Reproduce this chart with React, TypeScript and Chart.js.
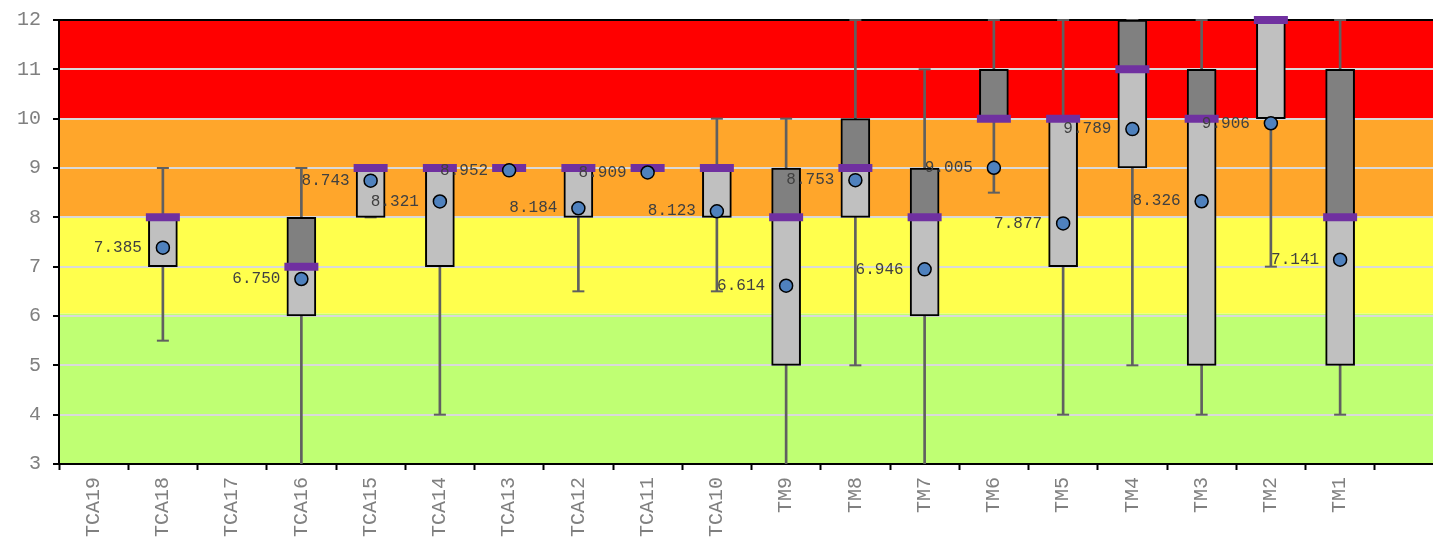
import React, { useEffect, useRef } from "react";
import { Chart, registerables } from "chart.js";

Chart.register(...registerables);

// ---------- data ----------
const categories = [
  "TCA19", "TCA18", "TCA17", "TCA16", "TCA15", "TCA14", "TCA13", "TCA12", "TCA11", "TCA10",
  "TM9", "TM8", "TM7", "TM6", "TM5", "TM4", "TM3", "TM2", "TM1", "",
];
const minValues = [null, 5.5, null, 2, 8, 4, 9, 6.5, 9, 6.5, 2, 5, 2, 8.5, 4, 5, 4, 7, 4, null];
const q1Values = [null, 7, null, 6, 8, 7, 9, 8, 9, 8, 5, 8, 6, 10, 7, 9, 5, 10, 5, null];
const medianValues = [null, 8, null, 7, 9, 9, 9, 9, 9, 9, 8, 9, 8, 10, 10, 11, 10, 12, 8, null];
const q3Values = [null, 8, null, 8, 9, 9, 9, 9, 9, 9, 9, 10, 9, 11, 10, 12, 11, 12, 11, null];
const maxValues = [null, 9, null, 9, 9, 9, 9, 9, 9, 10, 10, 12, 11, 12, 12, 12, 12, 12, 12, null];
const meanValues = [
  null, 7.385, null, 6.75, 8.743, 8.321, 8.952, 8.184, 8.909, 8.123,
  6.614, 8.753, 6.946, 9.005, 7.877, 9.789, 8.326, 9.906, 7.141, null,
];
const yMin = 3;
const yMax = 12;
const yStep = 1;
const bandEdges = [3, 6.05, 8, 10, 12];
const bandColors = ["#bfff73", "#ffff4d", "#ffa62b", "#ff0000"];

const FONT = "'Courier New', 'Liberation Mono', monospace";

const range = (a: (number | null)[], b: (number | null)[]) =>
  a.map((v, i) => (v == null || b[i] == null ? null : [v as number, b[i] as number]));

const bandsPlugin = {
  id: "bands",
  beforeDraw(chart: any) {
    const { ctx, chartArea, scales } = chart;
    const y = scales.y;
    ctx.save();
    for (let i = 0; i < bandColors.length; i++) {
      const top = y.getPixelForValue(bandEdges[i + 1]);
      const bottom = y.getPixelForValue(bandEdges[i]);
      ctx.fillStyle = bandColors[i];
      ctx.fillRect(chartArea.left, top, chartArea.right - chartArea.left, bottom - top);
    }
    ctx.restore();
  },
  beforeDatasetsDraw(chart: any) {
    const { ctx, chartArea } = chart;
    ctx.save();
    ctx.strokeStyle = "#000";
    ctx.lineWidth = 2;
    ctx.beginPath();
    ctx.moveTo(chartArea.left - 1, chartArea.top);
    ctx.lineTo(chartArea.right, chartArea.top);
    ctx.stroke();
    ctx.restore();
  },
};

const meanLabelPlugin = {
  id: "meanLabels",
  afterDatasetsDraw(chart: any) {
    const { ctx } = chart;
    const idx = chart.data.datasets.findIndex((d: any) => d.label === "mean");
    const meta = chart.getDatasetMeta(idx);
    ctx.save();
    ctx.font = `16px ${FONT}`;
    ctx.fillStyle = "#404040";
    ctx.textAlign = "right";
    ctx.textBaseline = "middle";
    meta.data.forEach((pt: any, i: number) => {
      const v = meanValues[i];
      if (v == null) return;
      ctx.fillText(v.toFixed(3), pt.x - 21, pt.y);
    });
    ctx.restore();
  },
};

export default function App() {
  const ref = useRef<HTMLCanvasElement | null>(null);

  useEffect(() => {
    if (!ref.current) return;
    const chart = new Chart(ref.current, {
      type: "bar",
      data: {
        labels: categories,
        datasets: [
          {
            type: "bar",
            label: "whisker",
            data: range(minValues, maxValues) as any,
            backgroundColor: "#606060",
            borderWidth: 0,
            barThickness: 2,
            grouped: false,
            order: 7,
          } as any,
          {
            type: "line",
            label: "minCap",
            data: minValues,
            showLine: false,
            pointStyle: "line",
            pointRadius: 6,
            pointBorderWidth: 2,
            pointBorderColor: "#606060",
            order: 6,
          },
          {
            type: "line",
            label: "maxCap",
            data: maxValues,
            showLine: false,
            pointStyle: "line",
            pointRadius: 6,
            pointBorderWidth: 2,
            pointBorderColor: "#606060",
            clip: false,
            order: 5,
          } as any,
          {
            type: "bar",
            label: "lowerBox",
            data: range(q1Values, medianValues) as any,
            backgroundColor: "#c0c0c0",
            borderColor: "#000",
            borderWidth: 2,
            borderSkipped: false,
            barThickness: 29,
            grouped: false,
            order: 4,
          } as any,
          {
            type: "bar",
            label: "upperBox",
            data: range(medianValues, q3Values) as any,
            backgroundColor: "#808080",
            borderColor: "#000",
            borderWidth: 2,
            borderSkipped: false,
            barThickness: 29,
            grouped: false,
            order: 3,
          } as any,
          {
            type: "line",
            label: "median",
            data: medianValues,
            showLine: false,
            pointStyle: "line",
            pointRadius: 17,
            pointBorderWidth: 8,
            pointBorderColor: "#7030a0",
            clip: false,
            order: 2,
          } as any,
          {
            type: "line",
            label: "mean",
            data: meanValues,
            showLine: false,
            pointStyle: "circle",
            pointRadius: 6.5,
            pointBorderWidth: 1.5,
            pointBackgroundColor: "#4f81bd",
            pointBorderColor: "#000",
            order: 1,
          },
        ],
      },
      options: {
        animation: false,
        responsive: false,
        devicePixelRatio: 1,
        layout: { autoPadding: false, padding: { top: 20, left: 0, right: 0, bottom: 0 } },
        plugins: {
          legend: { display: false },
          tooltip: { enabled: false },
        },
        events: [],
        scales: {
          x: {
            type: "category",
            offset: true,
            grid: {
              offset: true,
              drawOnChartArea: false,
              drawTicks: true,
              tickLength: 6,
              tickWidth: 2,
              tickColor: "#000",
            },
            border: { display: true, color: "#000", width: 2 },
            ticks: {
              autoSkip: false,
              minRotation: 90,
              maxRotation: 90,
              padding: 7,
              color: "#808080",
              font: { family: FONT, size: 20 },
            },
            afterFit: (s: any) => {
              s.height = 80;
              s.paddingLeft = 0;
              s.paddingRight = 0;
            },
          },
          y: {
            type: "linear",
            min: yMin,
            max: yMax,
            ticks: {
              stepSize: yStep,
              padding: 12,
              color: "#808080",
              font: { family: FONT, size: 20 },
            },
            grid: {
              color: "#d9d9d9",
              lineWidth: 2,
              drawTicks: true,
              tickLength: 6,
              tickWidth: 2,
              tickColor: "#000",
            },
            border: { display: true, color: "#000", width: 2 },
            afterFit: (s: any) => {
              s.width = 59;
              s.paddingTop = 0;
              s.paddingBottom = 0;
            },
          },
        },
      } as any,
      plugins: [bandsPlugin, meanLabelPlugin],
    });
    return () => chart.destroy();
  }, []);

  return (
    <div
      style={{
        position: "fixed",
        left: 0,
        top: 0,
        width: 1433,
        height: 544,
        overflow: "hidden",
        background: "#fff",
      }}
    >
      <canvas ref={ref} width={1444} height={544} style={{ display: "block" }} />
    </div>
  );
}
